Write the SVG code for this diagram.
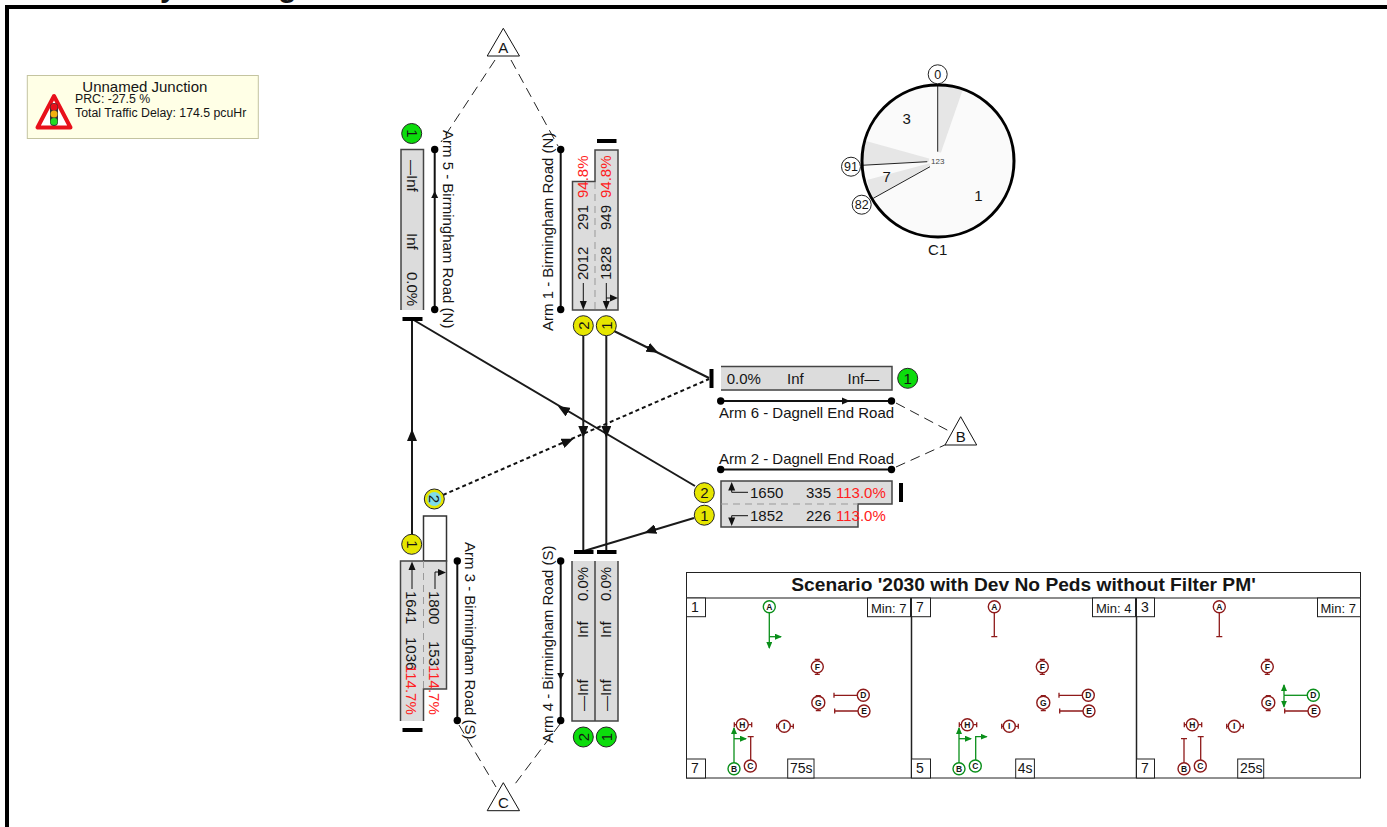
<svg xmlns="http://www.w3.org/2000/svg" width="1387" height="827" viewBox="0 0 1387 827">
<style>
text{font-family:"Liberation Sans",Arial,sans-serif;fill:#151515}
.t{font-size:15px}
.r{font-size:15px;fill:#ff2020}
.sm{font-size:13px}
.n{font-size:14px}
.fill{fill:#dcdcdc;stroke:none}
.edge{fill:none;stroke:#444;stroke-width:1.5}
.c{fill:none;stroke:#1a1a1a;stroke-width:2}
.d{fill:none;stroke:#222;stroke-width:1;stroke-dasharray:10 6}
.bar{fill:none;stroke:#000;stroke-width:4}
.arm{fill:none;stroke:#111;stroke-width:2}
.dot{fill:#000}
.tri{fill:#fff;stroke:#111;stroke-width:1}
.y{fill:#e6e600;stroke:#222;stroke-width:1}
.g{fill:#0cdc0c;stroke:#222;stroke-width:1}
.sep{stroke:#999;stroke-width:1;stroke-dasharray:7 5;fill:none}
.th{fill:none;stroke:#111;stroke-width:1}
.mid{text-anchor:middle}
.box{fill:#fff;stroke:#222;stroke-width:1}
.s{fill:#fff;stroke-width:1.4}
.sr{stroke:#8e1a1a}.sg{stroke:#0a8f1a}
.sl{font-size:8.500px;font-weight:bold;text-anchor:middle}
.rl{stroke:#8e1a1a;stroke-width:1.300;fill:none}
.gl{stroke:#0a8f1a;stroke-width:1.300;fill:none}
.ph{font-size:15px;text-anchor:middle}
.cn{font-size:12.500px;text-anchor:middle}
</style>
<defs>
<marker id="ah" markerWidth="12" markerHeight="10" refX="6" refY="5" orient="auto" markerUnits="userSpaceOnUse"><path d="M0 0L12 5L0 10z" fill="#111"/></marker>
<marker id="ag" markerWidth="7" markerHeight="6" refX="6" refY="3" orient="auto" markerUnits="userSpaceOnUse"><path d="M0 0L7 3L0 6z" fill="#0a8f1a"/></marker>
<g id="sigs">
<path class="rl" d="M128.800 61.300h5M128.800 76.300h5M129.800 97.700h5M129.800 112.700h5M48.300 124.200v5M65.700 124.200v5M90.700 125.800v5M107.300 125.800v5M48.300 126.700H52M61 126.700H65.700M90.700 128.300H94M103 128.300H107.300M131.300 61.300V64M131.300 74V76.300M132.300 97.700V100M132.300 110V112.700"/>
<circle class="s sr" cx="131.300" cy="68.700" r="6"/><text class="sl" x="131.300" y="71.700">F</text>
<circle class="s sr" cx="132.300" cy="104.700" r="6.500"/><text class="sl" x="132.300" y="107.700">G</text>
<circle class="s sr" cx="56.300" cy="126.700" r="6"/><text class="sl" x="56.300" y="129.700">H</text>
<circle class="s sr" cx="98.300" cy="128.300" r="6"/><text class="sl" x="98.300" y="131.300">I</text>
</g>
<g id="e"><path class="rl" d="M148.700 110.500v5M148.700 113H172"/><circle class="s sr" cx="178" cy="113" r="6"/><text class="sl" x="178" y="116">E</text></g>
<g id="dr"><path class="rl" d="M148 94.800v5M148 97.300H171"/><circle class="s sr" cx="177.300" cy="97.300" r="6"/><text class="sl" x="177.300" y="100.300">D</text></g>
<g id="ared"><path class="rl" d="M83.300 14V38.700M80.300 38.700H86.300"/><circle class="s sr" cx="83.300" cy="8.700" r="6"/><text class="sl" x="83.300" y="11.700">A</text></g>
<g id="bgreen"><path class="gl" d="M48 165V130" marker-end="url(#ag)"/><path class="gl" d="M48 140.700H60" marker-end="url(#ag)"/><circle class="s sg" cx="48" cy="170.700" r="6"/><text class="sl" x="48" y="173.700">B</text></g>
</defs>
<rect width="1387" height="827" fill="#fff"/>
<text id="title" x="125" y="-3" font-size="30" font-weight="bold">Layout Diagram</text>
<path d="M7 827V7H1387" fill="none" stroke="#000" stroke-width="4"/>

<g id="info">
<rect x="27.300" y="75.500" width="231" height="63" fill="#ffffe6" stroke="#c4c4a0" stroke-width="1"/>
<path d="M54 96L37.500 127.500H70.500z" fill="#fff" stroke="#e8101a" stroke-width="4" stroke-linejoin="round"/>
<rect x="50" y="103" width="8" height="23" rx="4" fill="#333"/>
<circle cx="54" cy="107" r="3.500" fill="#e8101a"/><circle cx="54" cy="114" r="3.500" fill="#f0b010"/><circle cx="54" cy="121.500" r="3.500" fill="#22dd22"/>
<text x="82.300" y="91.700" font-size="15">Unnamed Junction</text>
<text x="75" y="103" font-size="12.300">PRC: -27.5 %</text>
<text x="75" y="116.700" font-size="12.300">Total Traffic Delay: 174.5 pcuHr</text>
</g>

<g id="connectors">
<path class="d" d="M495 60L441 142M511 60L558 146"/>
<path class="d" d="M896 403L949 431M896 467L947 444"/>
<path class="d" d="M459 725L496 787M560 724L512 788"/>
<path class="c" d="M412 535V319"/><path class="c" d="M412 441V435" marker-end="url(#ah)"/>
<path class="c" d="M412 319L695 486"/><path class="c" d="M568 412L563 409" marker-end="url(#ah)"/>
<path class="c" d="M583.300 336V552"/><path class="c" d="M583.300 426V432" marker-end="url(#ah)"/>
<path class="c" d="M606.300 336V552"/><path class="c" d="M606.300 426V432" marker-end="url(#ah)"/>
<path class="c" d="M614 331L709 378"/><path class="c" d="M647 347L653 350" marker-end="url(#ah)"/>
<path class="c" d="M694 518L584 551"/><path class="c" d="M656 529L650 531" marker-end="url(#ah)"/>
<path d="M443 495L709 379" fill="none" stroke="#111" stroke-width="2" stroke-dasharray="4 3"/><path class="c" d="M562 443.500L568 441" marker-end="url(#ah)"/>
<path class="bar" d="M402.500 319H422.500M402.500 730H422.500M597 141H616.500M574 552H593.500M597 552H616.500M711.500 369V388M901 483V502"/>
</g>

<g id="arm5">
<rect class="fill" x="401" y="150" width="22.500" height="160"/>
<path class="edge" d="M401 310V149.500H423.500V310"/>
<text class="t" transform="translate(407 160) rotate(90)">—Inf</text>
<text class="t" transform="translate(407 233) rotate(90)">Inf</text>
<text class="t" transform="translate(407 272) rotate(90)">0.0%</text>
<circle class="g" cx="411.700" cy="133.500" r="10"/><text class="t mid" transform="translate(406.500 133.500) rotate(90)">1</text>
<path class="arm" d="M434.700 149.500V309.500"/><circle class="dot" cx="434.700" cy="149.500" r="3.700"/><circle class="dot" cx="434.700" cy="309.500" r="3.700"/><path d="M431.200 198L434.700 191L438.200 198z" fill="#111"/>
<text class="t" transform="translate(443 130) rotate(90)">Arm 5 - Birmingham Road (N)</text>
</g>

<g id="arm1">
<path class="fill" d="M572.500 310V181.500H595V150H618V310z"/>
<path class="edge" d="M572.500 310V181.500H595V150H618V310z"/>
<path class="sep" d="M595 182V310"/>
<text class="t" transform="translate(588 280) rotate(-90)">2012</text>
<text class="t" transform="translate(588 230) rotate(-90)">291</text>
<text class="r" transform="translate(588 198) rotate(-90)">94.8%</text>
<text class="t" transform="translate(611 280) rotate(-90)">1828</text>
<text class="t" transform="translate(611 230) rotate(-90)">949</text>
<text class="r" transform="translate(611 198) rotate(-90)">94.8%</text>
<path class="th" d="M583.300 283V304M606.300 283V304M606.300 298H612"/>
<path d="M579.800 301h7l-3.500 9zM602.800 301h7l-3.500 9z" fill="#111"/>
<path d="M610 294.500l8 3.500-8 3.500z" fill="#111"/>
<circle class="y" cx="583.300" cy="325.700" r="10"/><text class="t mid" transform="translate(588.500 325.700) rotate(-90)">2</text>
<circle class="y" cx="606.300" cy="325.700" r="10"/><text class="t mid" transform="translate(611.500 325.700) rotate(-90)">1</text>
<path class="arm" d="M560.700 149.500V309.500"/><circle class="dot" cx="560.700" cy="149.500" r="3.700"/><circle class="dot" cx="560.700" cy="309.500" r="3.700"/>
<text class="t" transform="translate(553 331) rotate(-90)">Arm 1 - Birmingham Road (N)</text>
</g>

<g id="arm6">
<rect class="fill" x="721" y="366.500" width="171" height="24"/>
<path class="edge" d="M721 366.500H892V390H721"/>
<text class="t" x="726.700" y="384">0.0%</text><text class="t" x="787" y="384">Inf</text><text class="t" x="847.500" y="384">Inf—</text>
<circle class="g" cx="907.700" cy="378.300" r="10"/><text class="t mid" x="907.700" y="383.500">1</text>
<path class="arm" d="M720.700 401H891.500"/><circle class="dot" cx="720.700" cy="401" r="3.700"/><circle class="dot" cx="891.500" cy="401" r="3.700"/><path d="M842 397.500L850 401L842 404.500z" fill="#111"/>
<text class="t" x="719" y="417.700">Arm 6 - Dagnell End Road</text>
</g>

<g id="arm2">
<path class="fill" d="M721 481H892V504H858V527H721z"/>
<path class="edge" d="M721 481H892V504H858V527H721z"/>
<path class="sep" d="M721 504H858"/>
<path class="th" d="M731.700 492.300H748M731.700 515.700H748M731.700 488V492.300M731.700 515.700V520"/>
<path d="M728.200 490.500L731.700 482L735.200 490.500zM728.200 517.500L731.700 526L735.200 517.500z" fill="#111"/>
<text class="t" x="750" y="497.700">1650</text><text class="t" x="806" y="497.700">335</text><text class="r" x="836" y="497.700">113.0%</text>
<text class="t" x="750" y="521">1852</text><text class="t" x="806" y="521">226</text><text class="r" x="836" y="521">113.0%</text>
<circle class="y" cx="704.300" cy="492.700" r="10"/><text class="t mid" x="704.300" y="498">2</text>
<circle class="y" cx="704.300" cy="515.200" r="10"/><text class="t mid" x="704.300" y="520.500">1</text>
<path class="arm" d="M720.700 469.500H891.500"/><circle class="dot" cx="720.700" cy="469.500" r="3.700"/><circle class="dot" cx="891.500" cy="469.500" r="3.700"/>
<text class="t" x="719" y="463.700">Arm 2 - Dagnell End Road</text>
</g>

<g id="arm3">
<rect x="423.500" y="516" width="23" height="45" fill="#fff" stroke="#333" stroke-width="1.500"/>
<path class="fill" d="M400.500 721V561H446.500V689H423.500V721z"/>
<path class="edge" d="M400.500 721V561H446.500V689H423.500V721"/>
<path class="sep" d="M423.500 561V689"/>
<text class="t" transform="translate(406 591) rotate(90)">1641</text>
<text class="t" transform="translate(406 637) rotate(90)">1036</text>
<text class="r" transform="translate(406 665) rotate(90)">114.7%</text>
<text class="t" transform="translate(429 591) rotate(90)">1800</text>
<text class="t" transform="translate(429 641) rotate(90)">153</text>
<text class="r" transform="translate(429 665) rotate(90)">114.7%</text>
<path class="th" d="M412 568V589M435 572V589M435 572H441"/>
<path d="M408.500 570L412 561.500L415.500 570z" fill="#111"/><path d="M438 569l8 3.500-8 3.500z" fill="#111"/>
<circle class="y" cx="411.700" cy="544.300" r="10"/><text class="t mid" transform="translate(406.500 544.300) rotate(90)">1</text>
<circle cx="434.300" cy="499" r="10" fill="#e6e600" stroke="#222"/><circle cx="434.300" cy="499" r="7" fill="#7fdce8"/><text class="t mid" transform="translate(429 499) rotate(90)">2</text>
<path class="arm" d="M457.300 561V720.500"/><circle class="dot" cx="457.300" cy="561" r="3.700"/><circle class="dot" cx="457.300" cy="720.500" r="3.700"/>
<text class="t" transform="translate(465 542) rotate(90)">Arm 3 - Birmingham Road (S)</text>
</g>

<g id="arm4">
<rect class="fill" x="572" y="561" width="46" height="160"/>
<path class="edge" d="M572 561V721H618V561M595 561V721"/>
<text class="t" transform="translate(588 711) rotate(-90)">—Inf</text>
<text class="t" transform="translate(588 638) rotate(-90)">Inf</text>
<text class="t" transform="translate(588 601) rotate(-90)">0.0%</text>
<text class="t" transform="translate(611 711) rotate(-90)">—Inf</text>
<text class="t" transform="translate(611 638) rotate(-90)">Inf</text>
<text class="t" transform="translate(611 601) rotate(-90)">0.0%</text>
<circle class="g" cx="583.300" cy="737" r="10"/><text class="t mid" transform="translate(588.500 737) rotate(-90)">2</text>
<circle class="g" cx="606.300" cy="737" r="10"/><text class="t mid" transform="translate(611.500 737) rotate(-90)">1</text>
<path class="arm" d="M560.700 561V720.500"/><circle class="dot" cx="560.700" cy="561" r="3.700"/><circle class="dot" cx="560.700" cy="720.500" r="3.700"/><path d="M557.200 673H564.200L560.700 680z" fill="#111"/>
<text class="t" transform="translate(553 743) rotate(-90)">Arm 4 - Birmingham Road (S)</text>
</g>

<g id="nodeA"><path class="tri" d="M503.300 28.300L519.500 56H487.200z"/><text class="t mid" x="503.300" y="53">A</text></g>
<g id="nodeB"><path class="tri" d="M960.700 416.700L976.700 445H945z"/><text class="t mid" x="960.700" y="441.500">B</text></g>
<g id="nodeC"><path class="tri" d="M503.300 782.700L519.500 810.700H487.200z"/><text class="t mid" x="503.300" y="807.500">C</text></g>

<g id="C1">
<circle cx="938" cy="161" r="76" fill="#fafafa"/>
<path d="M938 161L938 85A76 76 0 0 1 963 89z" fill="#e6e6e6"/>
<path d="M938 161L866 141A76 76 0 0 0 862 165z" fill="#e6e6e6"/>
<path d="M938 161L867 180A76 76 0 0 0 873.300 198.300z" fill="#e6e6e6"/>
<path d="M937.700 85V151.700M861.700 165.300L927.300 161.700M873.300 198.300L930 166.700" stroke="#222" stroke-width="1" fill="none"/>
<circle cx="938" cy="161" r="76" fill="none" stroke="#000" stroke-width="3"/>
<circle cx="938" cy="161" r="9" fill="#fafafa"/>
<text x="937.700" y="164" font-size="8" text-anchor="middle" style="fill:#444">123</text>
<circle cx="937.700" cy="74.300" r="9.500" fill="#fff" stroke="#222"/><text class="cn" x="937.700" y="78.700">0</text>
<circle cx="851" cy="166.700" r="9.500" fill="#fff" stroke="#222"/><text class="cn" x="851" y="171">91</text>
<circle cx="861.700" cy="204.700" r="9.500" fill="#fff" stroke="#222"/><text class="cn" x="861.700" y="209">82</text>
<text class="ph" x="906.700" y="124">3</text>
<text class="ph" x="886.700" y="181.700">7</text>
<text class="ph" x="978.300" y="200.700">1</text>
<text class="ph" x="937.700" y="255">C1</text>
</g>

<g id="scenario">
<rect x="686.500" y="572.500" width="674" height="205.500" fill="#fff" stroke="#222"/>
<text x="1023.500" y="591" font-size="19.200" font-weight="bold" text-anchor="middle">Scenario '2030 with Dev No Peds without Filter PM'</text>
<path d="M686.500 598H1360.500" stroke="#666" stroke-width="1.500"/>
<path d="M911.500 598V778M1136.500 598V778" stroke="#222" stroke-width="1.500"/>

<g id="stage1" transform="translate(686 598)">
<rect class="box" x="0.500" y="0" width="19" height="18.700"/><text class="n" x="5" y="14">1</text>
<rect class="box" x="181.500" y="0" width="43" height="18.700"/><text class="sm" x="185" y="14.500">Min: 7</text>
<rect class="box" x="0.500" y="161" width="19" height="19"/><text class="n" x="5" y="175">7</text>
<rect class="box" x="101.700" y="161" width="26.300" height="19"/><text class="n" x="104" y="175">75s</text>
<use href="#sigs"/><use href="#dr"/><use href="#e"/>
<path class="gl" d="M83.300 14V50" marker-end="url(#ag)"/><path class="gl" d="M83.300 38.700H95" marker-end="url(#ag)"/>
<circle class="s sg" cx="83.300" cy="8.700" r="6"/><text class="sl" x="83.300" y="11.700">A</text>
<use href="#bgreen"/>
<path class="rl" d="M64.700 162V138.700M61.700 138.700H67.700"/><circle class="s sr" cx="64.300" cy="168" r="6"/><text class="sl" x="64.300" y="171">C</text>
</g>

<g id="stage2" transform="translate(911 598)">
<rect class="box" x="0.500" y="0" width="19" height="18.700"/><text class="n" x="5" y="14">7</text>
<rect class="box" x="181.500" y="0" width="43" height="18.700"/><text class="sm" x="185" y="14.500">Min: 4</text>
<rect class="box" x="0.500" y="161" width="19" height="19"/><text class="n" x="5" y="175">5</text>
<rect class="box" x="104.700" y="161" width="18.700" height="19"/><text class="n" x="106.700" y="175">4s</text>
<use href="#sigs"/><use href="#dr"/><use href="#e"/>
<use href="#ared"/>
<use href="#bgreen"/>
<path class="gl" d="M64.700 162V138.700H75.700" marker-end="url(#ag)"/><circle class="s sg" cx="64.300" cy="168" r="6"/><text class="sl" x="64.300" y="171">C</text>
</g>

<g id="stage3" transform="translate(1136 598)">
<rect class="box" x="0.500" y="0" width="18" height="18.700"/><text class="n" x="5" y="14">3</text>
<rect class="box" x="181.500" y="0" width="43" height="18.700"/><text class="sm" x="184.500" y="14.500">Min: 7</text>
<rect class="box" x="0.500" y="161" width="18" height="19"/><text class="n" x="5" y="175">7</text>
<rect class="box" x="101.700" y="161" width="26" height="19"/><text class="n" x="104" y="175">25s</text>
<use href="#sigs"/><use href="#e"/>
<use href="#ared"/>
<path class="rl" d="M48 165V140.700M45 140.700H51"/><circle class="s sr" cx="48" cy="170.700" r="6"/><text class="sl" x="48" y="173.700">B</text>
<path class="rl" d="M64.700 162V138.700M61.700 138.700H67.700"/><circle class="s sr" cx="64.300" cy="168" r="6"/><text class="sl" x="64.300" y="171">C</text>
<path class="gl" d="M171 97.300H148"/><path class="gl" d="M148 97.300V87" marker-end="url(#ag)"/><path class="gl" d="M148 97.300V108.700" marker-end="url(#ag)"/>
<circle class="s sg" cx="177.300" cy="97.300" r="6"/><text class="sl" x="177.300" y="100.300">D</text>
</g>
</g>
</svg>
